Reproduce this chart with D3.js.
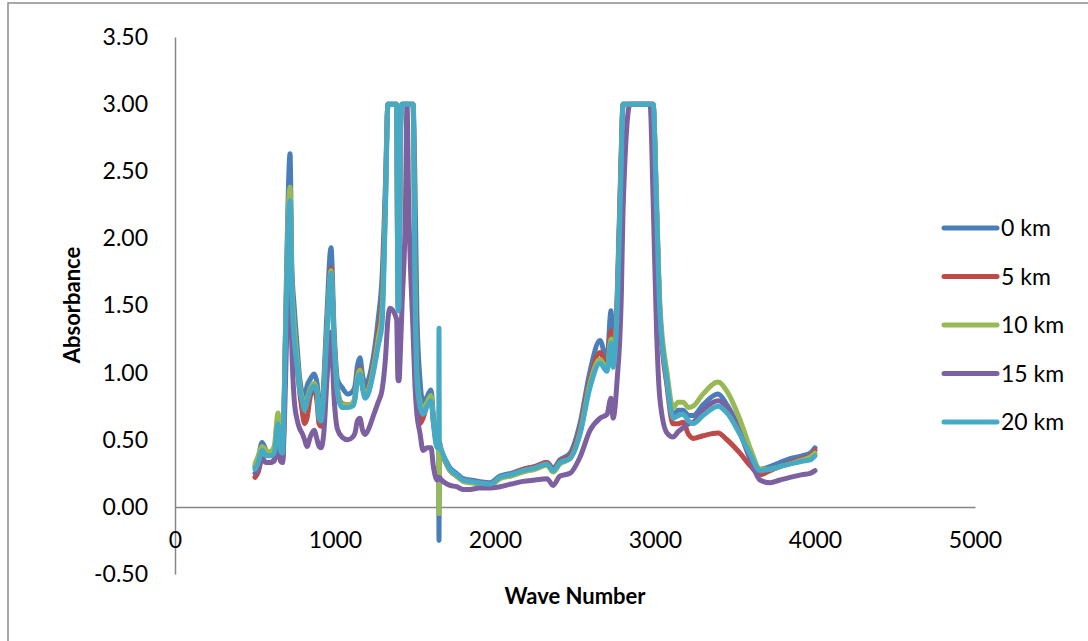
<!DOCTYPE html>
<html><head><meta charset="utf-8">
<script src="https://cdn.jsdelivr.net/npm/d3@7"></script>
<style>
body{margin:0;background:#fff;}
svg{display:block;}
text{font-family:Lato,"Open Sans",sans-serif;fill:#000;}
</style></head><body>
<svg id="c" width="1088" height="641"></svg>
<script>
const seriesNames = ["0 km","5 km","10 km","15 km","20 km"];
const seriesColors = ["#4A7EBB","#BE4B48","#98B954","#7D60A0","#46AAC5"];
const xTicks = [0,1000,2000,3000,4000,5000];
const yTicks = [-0.5,0,0.5,1,1.5,2,2.5,3,3.5];

const waveNumber = [500,520,544,570,594,620,644,660,672,690,705,719,730,745,763,780,794,810,825,845,870,888,900,913,930,950,975,995,1015,1044,1080,1110,1125,1140,1156,1172,1188,1210,1240,1270,1294,1315,1331,1344,1385,1394,1400,1410,1419,1440,1450,1460,1488,1500,1512,1531,1550,1575,1600,1615,1638,1648,1650,1652,1665,1700,1719,1760,1800,1844,1900,1969,2031,2100,2175,2250,2325,2363,2406,2469,2531,2594,2656,2700,2725,2738,2763,2790,2800,2844,2969,2988,3010,3031,3075,3113,3145,3175,3210,3238,3300,3394,3450,3531,3600,3656,3719,3780,3844,3920,3970,4000];

const km0 = [0.30,0.36,0.48,0.42,0.40,0.42,0.66,0.40,0.38,1.30,2.20,2.63,1.80,1.49,1.20,0.95,0.85,0.80,0.90,0.95,0.99,0.92,0.72,0.70,0.95,1.45,1.93,1.30,0.95,0.89,0.84,0.86,0.90,1.05,1.11,0.98,0.90,0.95,1.12,1.40,1.71,2.40,3.0,3.0,3.0,1.60,1.70,2.90,3.0,3.0,3.0,3.0,3.0,2.40,1.44,0.95,0.78,0.82,0.87,0.68,0.50,0.48,-0.25,0.48,0.42,0.33,0.29,0.25,0.21,0.20,0.19,0.18,0.23,0.25,0.28,0.30,0.33,0.29,0.35,0.40,0.62,1.01,1.24,1.09,1.46,1.12,1.55,2.70,3.0,3.0,3.0,3.0,2.20,1.44,0.95,0.68,0.72,0.72,0.68,0.68,0.76,0.84,0.76,0.58,0.40,0.28,0.30,0.33,0.36,0.38,0.40,0.44];

const km5 = [0.22,0.26,0.36,0.33,0.33,0.35,0.58,0.36,0.34,1.20,2.05,2.35,1.65,1.30,1.05,0.85,0.72,0.62,0.66,0.82,0.88,0.78,0.62,0.60,0.85,1.35,1.78,1.22,0.88,0.77,0.76,0.77,0.82,0.98,1.03,0.90,0.83,0.88,1.05,1.30,1.54,2.30,3.0,3.0,3.0,1.50,1.55,2.85,3.0,3.0,3.0,3.0,3.0,1.80,1.00,0.62,0.66,0.76,0.82,0.64,0.46,0.45,0.45,0.44,0.40,0.31,0.27,0.23,0.20,0.19,0.18,0.17,0.22,0.24,0.28,0.30,0.33,0.28,0.34,0.38,0.58,0.95,1.15,1.05,1.31,1.08,1.50,2.65,3.0,3.0,3.0,3.0,2.20,1.42,0.90,0.62,0.62,0.63,0.54,0.51,0.53,0.55,0.50,0.40,0.30,0.24,0.27,0.30,0.33,0.36,0.38,0.42];

const km10 = [0.32,0.38,0.45,0.42,0.41,0.45,0.70,0.42,0.40,1.25,2.10,2.38,1.70,1.35,1.10,0.90,0.82,0.74,0.80,0.88,0.92,0.86,0.68,0.66,0.87,1.33,1.76,1.22,0.87,0.76,0.76,0.77,0.82,0.97,1.02,0.90,0.83,0.87,1.03,1.25,1.45,2.25,3.0,3.0,3.0,1.48,1.52,2.82,3.0,3.0,3.0,3.0,3.0,1.70,0.98,0.78,0.72,0.78,0.83,0.64,0.46,0.47,-0.05,0.46,0.42,0.31,0.27,0.23,0.19,0.18,0.17,0.16,0.21,0.23,0.26,0.28,0.31,0.26,0.32,0.36,0.55,0.92,1.10,1.02,1.25,1.05,1.46,2.60,3.0,3.0,3.0,3.0,2.30,1.50,1.00,0.74,0.78,0.78,0.74,0.75,0.84,0.93,0.86,0.65,0.42,0.28,0.28,0.30,0.32,0.35,0.37,0.40];

const km15 = [0.25,0.28,0.36,0.33,0.33,0.34,0.45,0.34,0.33,0.90,1.60,1.90,1.20,0.80,0.65,0.58,0.55,0.50,0.45,0.52,0.57,0.50,0.45,0.44,0.55,0.95,1.30,0.80,0.58,0.52,0.50,0.52,0.55,0.64,0.66,0.57,0.54,0.58,0.68,0.78,0.87,1.10,1.40,1.48,1.40,0.94,0.94,1.20,1.50,2.20,3.0,2.30,1.30,0.90,0.69,0.55,0.42,0.44,0.44,0.30,0.20,0.22,0.22,0.22,0.20,0.17,0.16,0.15,0.13,0.13,0.14,0.14,0.15,0.17,0.19,0.20,0.21,0.16,0.23,0.25,0.37,0.57,0.66,0.69,0.81,0.66,0.94,1.60,2.20,3.0,3.0,2.30,1.30,0.80,0.55,0.52,0.56,0.59,0.62,0.63,0.72,0.79,0.74,0.55,0.34,0.20,0.18,0.20,0.22,0.24,0.25,0.27];

const km20 = [0.28,0.33,0.42,0.38,0.38,0.40,0.62,0.42,0.40,1.20,2.00,2.28,1.60,1.25,1.05,0.87,0.80,0.72,0.78,0.86,0.90,0.85,0.66,0.64,0.85,1.30,1.74,1.20,0.85,0.74,0.74,0.75,0.80,0.95,0.99,0.88,0.81,0.85,1.00,1.20,1.36,2.20,3.0,3.0,3.0,1.46,1.50,2.80,3.0,3.0,3.0,3.0,3.0,1.60,0.94,0.75,0.69,0.75,0.79,0.62,0.44,0.45,1.33,0.45,0.42,0.32,0.28,0.24,0.20,0.19,0.18,0.17,0.22,0.24,0.27,0.29,0.32,0.27,0.33,0.36,0.54,0.89,1.07,1.01,1.22,1.04,1.44,2.60,3.0,3.0,3.0,3.0,2.20,1.44,0.94,0.66,0.68,0.69,0.64,0.62,0.68,0.75,0.70,0.54,0.38,0.27,0.28,0.30,0.32,0.34,0.35,0.38];

const seriesValues = [km0, km5, km10, km15, km20];

const svg = d3.select("#c");
// outer border
svg.append("rect").attr("x",8).attr("y",3).attr("width",1200).attr("height",800)
  .attr("fill","none").attr("stroke","#8c8c8c").attr("stroke-width",1.5);

const x = d3.scaleLinear().domain([0,5000]).range([175,975]);
const y = d3.scaleLinear().domain([-0.5,3.5]).range([574,37]);

const fmtY = v => d3.format(".2f")(v).replace("\u2212","-");
const yAxis = svg.append("g").attr("transform",`translate(${x(0)},0)`)
  .call(d3.axisLeft(y).tickValues(yTicks).tickFormat(fmtY).tickSize(0).tickSizeOuter(0).tickPadding(27));
const xAxis = svg.append("g").attr("transform",`translate(0,${y(0)})`)
  .call(d3.axisBottom(x).tickValues(xTicks).tickFormat(d3.format("d")).tickSize(0).tickSizeOuter(0).tickPadding(25));
[yAxis,xAxis].forEach(g=>{
  g.select(".domain").attr("stroke","#868686").attr("stroke-width",1.5);
  g.selectAll("text").attr("font-size",23).attr("font-family","Lato, sans-serif").attr("fill","#000");
});

const line = d3.line().x((d,i)=>x(waveNumber[i])).y(d=>y(d)).curve(d3.curveMonotoneX);
seriesValues.forEach((vals,k)=>{
  svg.append("path").datum(vals).attr("d",line).attr("fill","none")
    .attr("stroke",seriesColors[k]).attr("stroke-width",5)
    .attr("stroke-linejoin","round").attr("stroke-linecap","round");
});

// axis titles
svg.append("text").attr("x",575).attr("y",604).attr("text-anchor","middle")
  .attr("font-size",22).attr("font-weight","bold").text("Wave Number");
svg.append("text").attr("transform","translate(80,305) rotate(-90)").attr("text-anchor","middle")
  .attr("font-size",22).attr("font-weight","bold").text("Absorbance");

// legend
const leg = svg.append("g");
seriesNames.forEach((n,k)=>{
  const yy = 228 + k*48.5;
  leg.append("line").attr("x1",944).attr("x2",997).attr("y1",yy).attr("y2",yy)
    .attr("stroke",seriesColors[k]).attr("stroke-width",5).attr("stroke-linecap","round");
  leg.append("text").attr("x",1001).attr("y",yy).attr("dy","0.36em").attr("font-size",23).text(n);
});
</script></body></html>
